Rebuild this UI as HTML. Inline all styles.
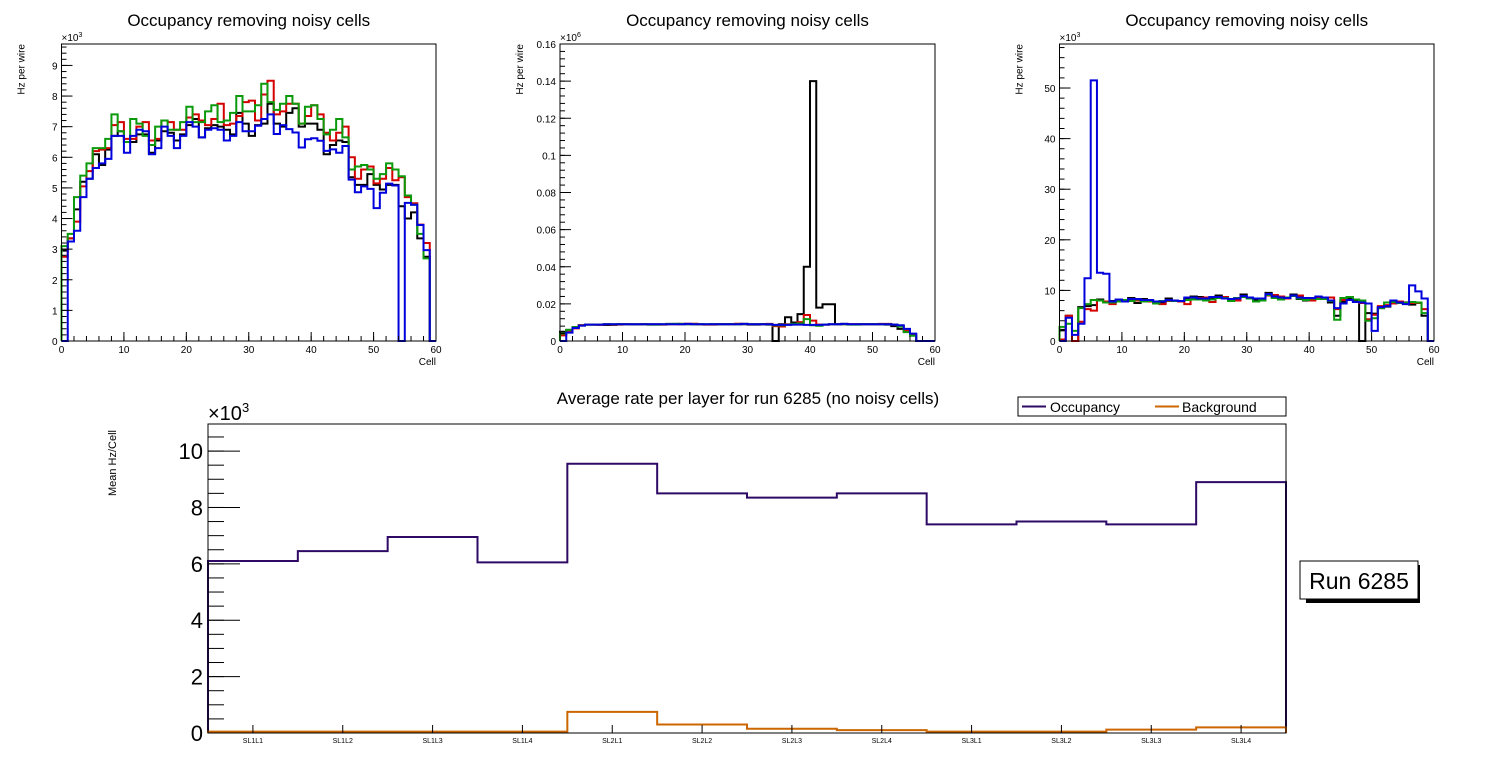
<!DOCTYPE html>
<html><head><meta charset="utf-8"><style>
html,body{margin:0;padding:0;background:#fff;}
svg{display:block;font-family:"Liberation Sans",sans-serif;}
</style></head><body>
<svg id="c" width="1496" height="772" viewBox="0 0 1496 772" xmlns="http://www.w3.org/2000/svg"></svg>
<script>
// ---- Top-left panel data (x10^3 Hz) ----
const tlBlack=[2.95,3.35,4.3,5.2,5.3,6.1,5.75,6.25,6.7,6.85,6.5,6.5,6.75,6.75,6.15,6.55,6.85,6.8,6.55,6.75,7.05,7.25,6.65,6.95,7.05,7.0,6.9,6.75,7.45,7.1,6.7,7.05,7.1,7.75,7.1,7.0,7.45,7.6,7.0,7.1,7.1,6.9,6.1,6.4,6.55,6.5,5.35,5.1,5.1,5.45,5.1,4.95,5.1,5.1,4.4,4.0,4.2,3.35,2.75,0];
const tlRed=[2.75,3.35,3.9,5.05,5.55,6.2,6.25,6.3,7.05,7.15,6.6,6.6,7.0,7.15,6.55,6.6,7.2,7.15,6.9,6.9,7.3,7.4,7.2,7.05,7.25,7.75,7.05,7.1,7.35,7.8,7.85,7.2,8.05,8.5,7.4,7.5,7.75,7.75,7.1,7.35,7.7,7.4,6.8,6.55,6.8,7.0,6.0,5.3,5.6,5.7,5.15,5.3,5.65,5.25,5.35,4.7,4.5,3.8,3.2,0];
const tlGreen=[3.1,3.5,4.7,5.4,5.8,6.3,6.3,6.6,7.4,6.85,6.5,7.25,7.1,6.7,6.4,7.0,7.2,6.9,6.9,7.15,7.65,7.15,7.15,7.5,7.7,7.15,7.2,7.45,8.0,7.5,7.5,7.7,8.4,7.8,7.55,7.75,8.0,7.75,7.1,7.65,7.7,7.25,6.75,6.9,7.25,6.65,5.6,5.7,5.75,5.6,5.3,5.45,5.8,5.6,5.38,4.75,4.45,3.5,2.7,0];
const tlBlue=[0,3.25,3.6,4.7,5.3,5.65,5.8,5.95,6.7,6.7,6.15,6.7,6.9,6.85,6.1,6.3,7.0,6.7,6.3,6.7,7.15,7.0,6.65,6.9,6.95,6.9,6.55,6.7,7.15,6.85,6.85,7.03,7.25,7.4,6.76,7.05,6.92,6.81,6.32,6.59,6.62,6.54,6.21,6.26,6.15,6.37,5.27,4.86,5.05,4.97,4.34,4.84,5.14,5.08,0,4.51,4.45,3.79,2.97,0];
const tlYTicks=[0,1,2,3,4,5,6,7,8,9];
// ---- Top-middle panel data (x10^6 Hz) ----
const tmBlack=[0.005,0.006,0.0075,0.0085,0.0088,0.0088,0.0088,0.0086,0.0087,0.009,0.009,0.0089,0.0089,0.009,0.009,0.009,0.0089,0.0092,0.0092,0.009,0.009,0.009,0.009,0.0089,0.009,0.009,0.009,0.009,0.009,0.009,0.0088,0.0088,0.009,0.0088,0,0.009,0.0128,0.01,0.0145,0.04,0.14,0.018,0.0198,0.0198,0.009,0.0092,0.009,0.009,0.009,0.009,0.009,0.009,0.0088,0.008,0.0065,0.005,0.003,0,0,0];
const tmRed=[0.003,0.0055,0.0068,0.0085,0.0088,0.0088,0.0087,0.009,0.0088,0.0088,0.009,0.009,0.009,0.009,0.0088,0.0088,0.0088,0.009,0.009,0.0092,0.0093,0.0093,0.0089,0.0088,0.0088,0.009,0.009,0.009,0.0093,0.0092,0.009,0.009,0.009,0.0092,0.008,0.0078,0.009,0.0092,0.0102,0.014,0.011,0.0088,0.0088,0.009,0.009,0.009,0.009,0.009,0.009,0.009,0.009,0.0092,0.0092,0.0088,0.008,0.0055,0.0035,0,0,0];
const tmGreen=[0.004,0.006,0.0075,0.0083,0.0088,0.0088,0.0088,0.009,0.009,0.009,0.009,0.009,0.009,0.009,0.0088,0.0088,0.009,0.0091,0.0092,0.0092,0.0091,0.009,0.009,0.009,0.009,0.009,0.009,0.009,0.009,0.0092,0.009,0.009,0.009,0.009,0.0084,0.0084,0.0088,0.0092,0.0094,0.0118,0.0085,0.0082,0.0088,0.009,0.009,0.009,0.0088,0.0088,0.009,0.009,0.009,0.009,0.009,0.0088,0.0078,0.0048,0.0028,0,0,0];
const tmBlue=[0,0.0045,0.007,0.0083,0.0088,0.0088,0.0088,0.009,0.009,0.009,0.009,0.009,0.009,0.009,0.009,0.009,0.009,0.009,0.009,0.009,0.0092,0.009,0.009,0.009,0.009,0.009,0.009,0.009,0.009,0.0092,0.009,0.009,0.009,0.009,0.0087,0.0087,0.0087,0.0088,0.0088,0.0087,0.0087,0.0087,0.0088,0.009,0.009,0.0092,0.009,0.009,0.009,0.009,0.009,0.009,0.009,0.0088,0.0085,0.0065,0.004,0,0,0];
const tmYTicks=[0,0.02,0.04,0.06,0.08,0.1,0.12,0.14,0.16];
const tmYLabels=["0","0.02","0.04","0.06","0.08","0.1","0.12","0.14","0.16"];
// ---- Top-right panel data (x10^3 Hz) ----
const trBlack=[2.2,5.0,0,6.7,6.9,7.1,8.2,7.8,7.9,8.2,7.9,8.5,7.5,8.3,8.0,7.6,7.6,8.4,7.9,7.9,8.5,8.8,8.7,8.3,8.6,9.0,8.6,8.1,8.5,9.2,8.5,8.2,8.3,9.5,8.8,8.4,8.6,9.2,8.3,8.0,8.3,8.7,8.5,7.6,5.0,7.8,8.4,8.1,0,5.5,5.4,6.5,6.8,7.5,7.7,7.6,7.2,7.5,5.0,0];
const trRed=[0.3,5.0,0,3.8,6.3,6.0,8.0,7.8,7.3,7.8,8.0,8.0,8.0,8.1,7.8,7.6,7.3,7.9,8.0,7.8,7.3,8.4,8.5,8.6,7.7,8.5,8.7,8.2,8.0,8.8,8.5,8.4,8.0,9.0,9.1,8.8,8.4,9.0,9.0,8.3,8.0,8.6,8.6,8.6,6.3,8.1,8.7,8.2,7.5,4.3,5.2,6.9,7.1,7.4,7.8,7.5,7.5,7.5,6.3,0];
const trGreen=[2.8,3.4,2.0,6.5,7.3,8.1,8.0,7.6,7.6,7.8,8.1,7.9,8.2,7.8,7.9,7.4,7.9,8.0,7.9,7.9,8.1,8.2,8.2,8.0,8.2,8.5,8.5,7.9,8.5,8.7,8.4,7.8,8.0,9.1,8.5,8.2,8.6,8.9,8.4,8.1,8.4,8.3,8.3,7.9,4.2,8.5,8.7,8.2,8.0,4.0,4.5,6.5,7.6,7.7,7.5,7.5,7.7,7.6,5.5,0];
const trBlue=[0,4.6,1.2,3.4,12.4,51.5,13.5,13.3,7.8,8.2,7.8,8.3,8.3,8.1,8.1,7.8,7.8,8.1,8.0,7.9,8.6,8.6,8.4,8.4,8.7,8.7,8.4,8.3,8.4,8.9,8.6,8.4,8.4,9.3,8.8,8.6,8.5,9.0,8.6,8.5,8.5,8.8,8.6,8.0,6.5,7.4,8.1,7.7,7.6,7.4,2.0,6.7,6.9,8.0,7.6,7.3,11.0,9.8,8.4,0];
const trYTicks=[0,10,20,30,40,50];
const xTicks=[0,10,20,30,40,50,60];
// ---- Bottom chart data (x10^3 Hz/Cell) ----
const layers=["SL1L1","SL1L2","SL1L3","SL1L4","SL2L1","SL2L2","SL2L3","SL2L4","SL3L1","SL3L2","SL3L3","SL3L4"];
const occupancy=[6.1,6.45,6.95,6.05,9.55,8.5,8.35,8.5,7.4,7.5,7.4,8.9];
const background=[0.05,0.05,0.05,0.05,0.75,0.3,0.15,0.1,0.05,0.05,0.12,0.2];
const bYTicks=[0,2,4,6,8,10];

const NS="http://www.w3.org/2000/svg";
const svg=document.getElementById('c');
function mk(tag,attrs,parent,text){const e=document.createElementNS(NS,tag);for(const k in attrs)e.setAttribute(k,attrs[k]);if(text!==undefined)e.textContent=text;(parent||svg).appendChild(e);return e;}

function stepPath(vals,xs,ys){let d='';const n=vals.length;for(let i=0;i<n;i++){const x0=xs(i),x1=xs(i+1),y=ys(vals[i]);if(i===0)d+='M'+x0+','+ys(0)+' L'+x0+','+y;else d+=' L'+x0+','+y;d+=' L'+x1+','+y;}d+=' L'+xs(n)+','+ys(0);return d;}

function panel(name,L,R,T,B,ymax,yticks,ylabels,yminor,series,mult){
  const g=mk('g',{});
  
  
  const xs=i=>L+(R-L)*i/60;
  const ys=v=>B-(B-T)*Math.min(v,ymax)/ymax;
  // title
  const t=mk('text',{x:(L+R)/2,y:26,'text-anchor':'middle','font-size':17},g,'Occupancy removing noisy cells');
  
  // series
  const cols=['#000000','#d40000','#0b9a0b','#0000dd'];
  series.forEach((s,k)=>{const p=mk('path',{d:stepPath(s,xs,ys),fill:'none',stroke:cols[k],'stroke-width':2},g);
    });
  // frame
  const f=mk('rect',{x:L,y:T,width:R-L,height:B-T,fill:'none',stroke:'#000','stroke-width':1},g);
  
  // y ticks
  for(let v=0;v<=ymax+1e-9;v+=yminor){const y=ys(v);mk('line',{x1:L,x2:L+5,y1:y,y2:y,stroke:'#000'},g);}
  yticks.forEach((v,i)=>{const y=ys(v);mk('line',{x1:L,x2:L+11,y1:y,y2:y,stroke:'#000'},g);
    const tx=mk('text',{x:L-4,y:y+4,'text-anchor':'end','font-size':10},g,ylabels[i]);
    });
  // x ticks
  for(let v=0;v<=60;v+=2){const x=xs(v);mk('line',{x1:x,x2:x,y1:B,y2:B-5,stroke:'#000'},g);}
  xTicks.forEach(v=>{const x=xs(v);mk('line',{x1:x,x2:x,y1:B,y2:B-9,stroke:'#000'},g);
    const tx=mk('text',{x:x,y:B+12,'text-anchor':'middle','font-size':10},g,String(v));
    });
  const xt=mk('text',{x:R,y:B+24,'text-anchor':'end','font-size':10},g,'Cell');
  
  const yt=mk('text',{x:0,y:0,'text-anchor':'end','font-size':10,transform:'translate('+(L-37)+','+T+') rotate(-90)'},g,'Hz per wire');
  
  const m=mk('text',{x:L,y:T-3,'font-size':10},g,'×10');
  
  mk('tspan',{dy:-4,'font-size':7},m,mult);
}
const T=44,B=341;
panel('panel-left',61.5,436,T,B,9.7,tlYTicks,tlYTicks.map(String),0.2,[tlBlack,tlRed,tlGreen,tlBlue],'3');
panel('panel-middle',560,935,T,B,0.16,tmYTicks,tmYLabels,0.004,[tmBlack,tmRed,tmGreen,tmBlue],'6');
panel('panel-right',1059.5,1434,T,B,58.7,trYTicks,trYTicks.map(String),2,[trBlack,trRed,trGreen,trBlue],'3');

// ---- bottom chart ----
(function(){
  const L=208,R=1286,Tt=424,Bb=733,ymax=10.96,n=layers.length;
  const g=mk('g',{});
  
  const xs=i=>L+(R-L)*i/n;
  const ys=v=>Bb-(Bb-Tt)*v/ymax;
  const t=mk('text',{x:748,y:404,'text-anchor':'middle','font-size':17},g,'Average rate per layer for run 6285 (no noisy cells)');
  
  const p1=mk('path',{d:stepPath(occupancy,xs,ys),fill:'none',stroke:'#2e0a66','stroke-width':2},g);
  
  const p2=mk('path',{d:stepPath(background,xs,ys),fill:'none',stroke:'#cc6600','stroke-width':2},g);
  
  const f=mk('rect',{x:L,y:Tt,width:R-L,height:Bb-Tt,fill:'none',stroke:'#000'},g);
  
  for(let v=0;v<=ymax;v+=0.5){const y=ys(v);mk('line',{x1:L,x2:L+16,y1:y,y2:y,stroke:'#000'},g);}
  bYTicks.forEach(v=>{const y=ys(v);mk('line',{x1:L,x2:L+32,y1:y,y2:y,stroke:'#000'},g);
    const tx=mk('text',{x:L-5,y:y+8,'text-anchor':'end','font-size':22},g,String(v));
    });
  layers.forEach((s,i)=>{const x=(xs(i)+xs(i+1))/2;mk('line',{x1:x,x2:x,y1:Bb,y2:Bb-8,stroke:'#000'},g);
    const tx=mk('text',{x:x,y:Bb+10,'text-anchor':'middle','font-size':7},g,s);
    });
  const m=mk('text',{x:L,y:Tt-4,'font-size':20},g,'×10');
  
  mk('tspan',{dy:-8,'font-size':13},m,'3');
  const yt=mk('text',{x:0,y:0,'text-anchor':'middle','font-size':11,transform:'translate(116,463) rotate(-90)'},g,'Mean Hz/Cell');
  
  // legend
  const lg=mk('g',{},g);
  
  mk('rect',{x:1018,y:397,width:268,height:19,fill:'#fff',stroke:'#000'},lg);
  mk('line',{x1:1022,x2:1046,y1:406.5,y2:406.5,stroke:'#2e0a66','stroke-width':2},lg);
  const l1=mk('text',{x:1050,y:412,'font-size':14},lg,'Occupancy');
  
  mk('line',{x1:1155,x2:1179,y1:406.5,y2:406.5,stroke:'#cc6600','stroke-width':2},lg);
  const l2=mk('text',{x:1182,y:412,'font-size':14},lg,'Background');
  
  // run box
  const rb=mk('g',{},g);
  
  mk('rect',{x:1306,y:565,width:114,height:38,fill:'#000'},rb);
  mk('rect',{x:1300,y:561,width:118,height:38,fill:'#fff',stroke:'#000'},rb);
  mk('text',{x:1359,y:589,'text-anchor':'middle','font-size':23},rb,'Run 6285');
})();
</script>
</body></html>
